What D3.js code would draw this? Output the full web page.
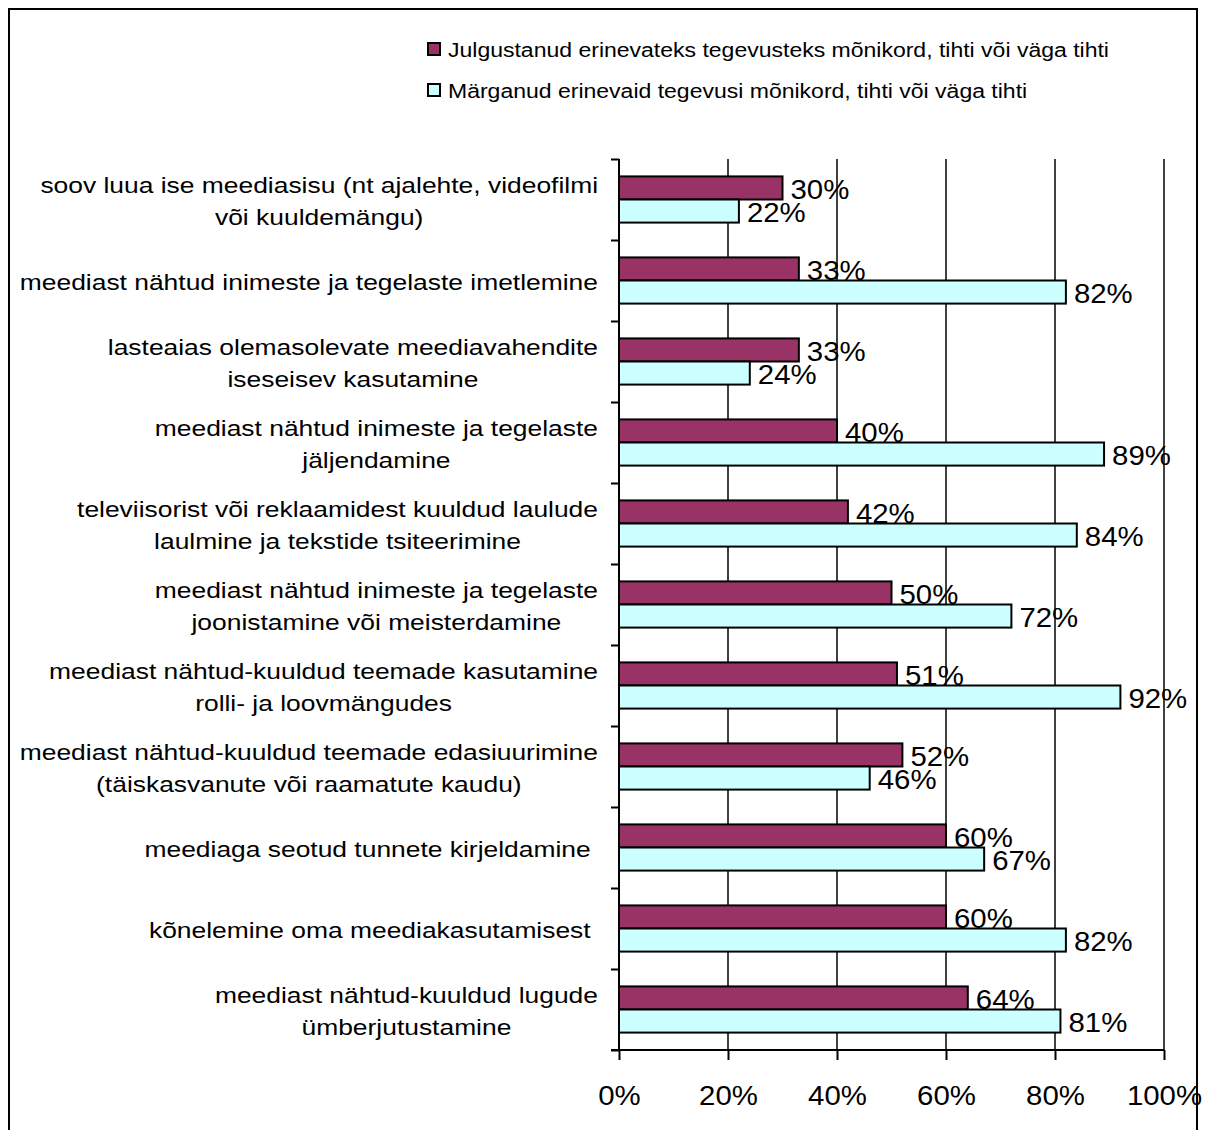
<!DOCTYPE html>
<html>
<head>
<meta charset="utf-8">
<script src="https://cdn.jsdelivr.net/npm/d3@7"></script>
<style>
    body { margin: 0; background: #fff; }
    svg { display: block; font-family: "Liberation Sans", Arial, sans-serif; }
</style>
</head>
<body>
<svg width="1211" height="1130"></svg>
<script>
// kategooriad (ülalt alla)
var categories = [
    ["soov luua ise meediasisu (nt ajalehte, videofilmi", "või kuuldemängu)"],
    ["meediast nähtud inimeste ja tegelaste imetlemine"],
    ["lasteaias olemasolevate meediavahendite", "iseseisev kasutamine"],
    ["meediast nähtud inimeste ja tegelaste", "jäljendamine"],
    ["televiisorist või reklaamidest kuuldud laulude", "laulmine ja tekstide tsiteerimine"],
    ["meediast nähtud inimeste ja tegelaste", "joonistamine või meisterdamine"],
    ["meediast nähtud-kuuldud teemade kasutamine", "rolli- ja loovmängudes"],
    ["meediast nähtud-kuuldud teemade edasiuurimine", "(täiskasvanute või raamatute kaudu)"],
    ["meediaga seotud tunnete kirjeldamine "],
    ["kõnelemine oma meediakasutamisest "],
    ["meediast nähtud-kuuldud lugude", "ümberjutustamine"]
];
var julgustanud = [30, 33, 33, 40, 42, 50, 51, 52, 60, 60, 64];
var marganud = [22, 82, 24, 89, 84, 72, 92, 46, 67, 82, 81];
var seriesNames = [
    "Julgustanud erinevateks tegevusteks mõnikord, tihti või väga tihti",
    "Märganud erinevaid tegevusi mõnikord, tihti või väga tihti"
];
var seriesColors = ["#993366", "#CCFFFF"];
var xTicks = [0, 20, 40, 60, 80, 100];

var svg = d3.select("svg");

// venitab teksti laiemaks (originaali kiri on laiem)
function stretch(sel, k) {
    sel.each(function () {
        var w = this.getComputedTextLength();
        d3.select(this)
            .attr("textLength", w * k)
            .attr("lengthAdjust", "spacingAndGlyphs");
    });
}

// raam
svg.append("rect")
    .attr("x", 9).attr("y", 9)
    .attr("width", 1188).attr("height", 1140)
    .attr("fill", "none")
    .attr("stroke", "#000")
    .attr("stroke-width", 2);

var pLeft = 619, pRight = 1164, pTop = 159, pBottom = 1050;

var x = d3.scaleLinear().domain([0, 100]).range([pLeft, pRight]);
var y = d3.scaleBand()
    .domain(d3.range(categories.length))
    .range([pTop, pBottom])
    .paddingInner(0.43)
    .paddingOuter(0.215);
var ySub = d3.scaleBand().domain([0, 1]).range([0, y.bandwidth()]);

// ruudustik
svg.append("g")
    .selectAll("line")
    .data(xTicks.slice(1))
    .enter()
    .append("line")
    .attr("x1", function (d) { return x(d) })
    .attr("x2", function (d) { return x(d) })
    .attr("y1", pTop)
    .attr("y2", pBottom)
    .attr("stroke", "#000")
    .attr("stroke-width", 1.5);

// tulbad
var rows = [];
categories.forEach(function (c, i) {
    rows.push({ i: i, s: 0, v: julgustanud[i] });
    rows.push({ i: i, s: 1, v: marganud[i] });
});

var barG = svg.append("g");
barG.selectAll("rect")
    .data(rows)
    .enter()
    .append("rect")
    .attr("x", x(0))
    .attr("y", function (d) { return y(d.i) + ySub(d.s) })
    .attr("width", function (d) { return x(d.v) - x(0) })
    .attr("height", ySub.bandwidth())
    .attr("fill", function (d) { return seriesColors[d.s] })
    .attr("stroke", "#000")
    .attr("stroke-width", 2);

barG.selectAll("text")
    .data(rows)
    .enter()
    .append("text")
    .attr("x", function (d) { return x(d.v) + 8 })
    .attr("y", function (d) { return y(d.i) + ySub(d.s) + ySub.bandwidth() - 1 })
    .attr("font-size", 28)
    .attr("fill", "#000")
    .text(function (d) { return d.v + "%" })
    .call(stretch, 1.05);

// teljed
var yAxis = d3.axisLeft(d3.scaleLinear().domain([0, categories.length]).range([pTop, pBottom]))
    .ticks(categories.length)
    .tickSize(8)
    .tickFormat("");
svg.append("g")
    .attr("transform", "translate(" + pLeft + ",0)")
    .call(yAxis)
    .call(function (g) {
        g.select(".domain").attr("stroke-width", 2).attr("d", "M0," + pTop + "V" + pBottom);
        g.selectAll(".tick line").attr("stroke-width", 2);
    });

var xAxis = d3.axisBottom(x)
    .tickValues(xTicks)
    .tickSize(10)
    .tickPadding(25)
    .tickFormat(function (d) { return d + "%" });
svg.append("g")
    .attr("transform", "translate(0," + pBottom + ")")
    .call(xAxis)
    .call(function (g) {
        g.select(".domain").attr("stroke-width", 2).attr("d", "M" + (pLeft - 8) + ",0H" + pRight);
        g.selectAll(".tick line").attr("stroke-width", 2);
        g.selectAll("text")
            .attr("font-family", "Liberation Sans, Arial, sans-serif")
            .attr("font-size", 28)
            .attr("fill", "#000")
            .call(stretch, 1.05);
    });

// kategooriate nimed
var labelRight = 598, lineH = 32;
var labG = svg.append("g");
categories.forEach(function (lines, i) {
    var cy = y(i) + y.bandwidth() / 2 + 2;
    var y0 = cy - (lines.length - 1) * lineH / 2 + 7.5;
    var texts = lines.map(function (l, k) {
        return labG.append("text")
            .attr("y", y0 + k * lineH)
            .attr("font-size", 22)
            .attr("fill", "#000")
            .attr("text-anchor", "middle")
            .style("white-space", "pre")
            .text(l)
            .call(stretch, 1.2);
    });
    var w = d3.max(texts, function (t) { return +t.attr("textLength") });
    texts.forEach(function (t) { t.attr("x", labelRight - w / 2) });
});

// legend
var leg = svg.append("g");
seriesNames.forEach(function (name, i) {
    var ly = 43 + i * 41;
    leg.append("rect")
        .attr("x", 428).attr("y", ly)
        .attr("width", 12).attr("height", 12)
        .attr("fill", seriesColors[i])
        .attr("stroke", "#000")
        .attr("stroke-width", 2);
    leg.append("text")
        .attr("x", 448)
        .attr("y", ly + 14)
        .attr("font-size", 20)
        .attr("fill", "#000")
        .text(name)
        .call(stretch, 1.15);
});
</script>
</body>
</html>
